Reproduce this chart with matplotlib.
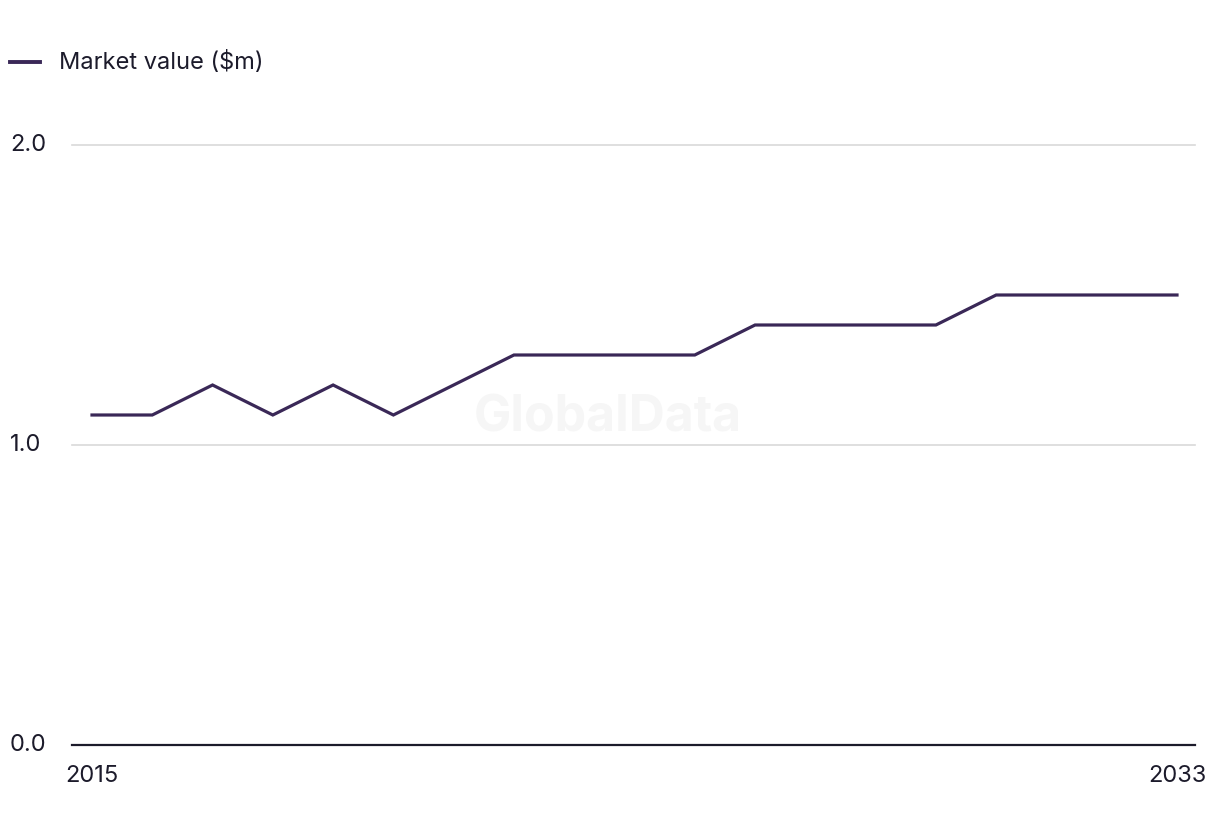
import matplotlib
matplotlib.use("Agg")
import matplotlib.pyplot as plt

years = list(range(2015, 2034))
market_value = [1.1, 1.1, 1.2, 1.1, 1.2, 1.1, 1.2, 1.3, 1.3, 1.3, 1.3,
                1.4, 1.4, 1.4, 1.4, 1.5, 1.5, 1.5, 1.5]
series_label = "Market value ($m)"
y_ticks = [0.0, 1.0, 2.0]
x_tick_labels = ["2015", "2033"]

plt.rcParams['font.family'] = ['Inter', 'DejaVu Sans']
text_color = "#1c1b2b"
line_color = "#3a2857"

fig = plt.figure(figsize=(12.2, 8.36), dpi=100)
ax = fig.add_axes([72/1220, 1-745/836, (1195-72)/1220, (745-145)/836])

ax.plot(years, market_value, color=line_color, lw=2.3, solid_joinstyle='miter', zorder=3)

ax.set_xlim(2015 - 20/60.28, 2033 + 18/60.28)
ax.set_ylim(0, 2.0)

for v in y_ticks[1:]:
    ax.axhline(v, color="#d9d9d9", lw=1.2, zorder=1, clip_on=False)
ax.axhline(0, color=text_color, lw=1.6, zorder=2, clip_on=False)

for s in ax.spines.values():
    s.set_visible(False)
ax.set_xticks([])
ax.set_yticks([])

for v in y_ticks:
    ax.text(-62/1123, v, f"{v:.1f}", transform=ax.get_yaxis_transform(),
            ha='left', va='center', fontsize=17, color=text_color)
for lbl in x_tick_labels:
    ax.text(int(lbl), -0.033, lbl, transform=ax.get_xaxis_transform(),
            ha='center', va='top', fontsize=17, color=text_color)

ax.text(0.477, 0.545, "GlobalData", transform=ax.transAxes, ha='center', va='center',
        fontsize=36, fontweight='bold', color="#f6f6f6", zorder=0)

# legend
fig.lines.append(plt.Line2D([10/1220, 40/1220], [1-62/836, 1-62/836],
                            transform=fig.transFigure, color=line_color, lw=2.8))
fig.text(59/1220, 1-62/836, series_label, ha='left', va='center',
         fontsize=17, color=text_color)

fig.savefig("out.png", dpi=100, facecolor="white")
